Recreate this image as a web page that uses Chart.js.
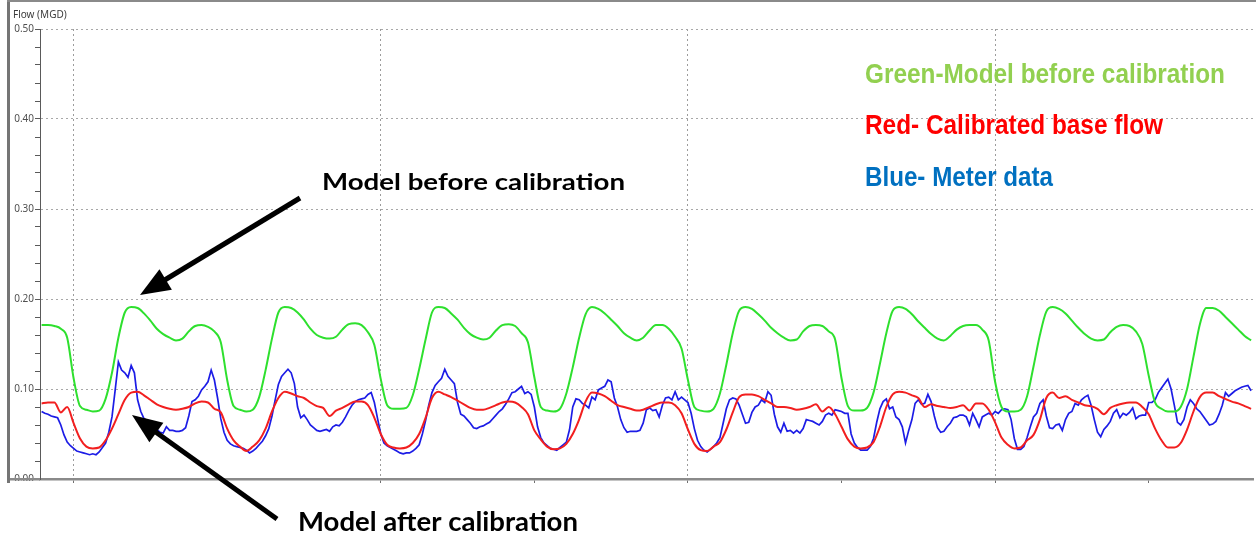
<!DOCTYPE html>
<html>
<head>
<meta charset="utf-8">
<title>Flow (MGD)</title>
<script src="https://cdn.jsdelivr.net/npm/chart.js@4.4.1/dist/chart.umd.min.js"></script>
<style>
    html, body { margin: 0; padding: 0; background: #fff; }
    canvas { display: block; }
</style>
</head>
<body>
<canvas id="chart" width="1256" height="537"></canvas>
<script>
/**
 * First sample of every series, in hours from the first day tick.
 */
const HOURS_FIRST = -5;
const HOURS_LAST = 184.3;

/**
 * Green - model before calibration, hourly.
 */
const GREEN_FLOW = [
    0.171, 0.171, 0.170, 0.167, 0.157,
    0.112, 0.081, 0.077, 0.075, 0.076, 0.089, 0.118, 0.157, 0.185, 0.191, 0.190, 0.184, 0.176, 0.167, 0.161, 0.157, 0.154, 0.156, 0.164, 0.170, 0.171, 0.169, 0.164, 0.152,
    0.110, 0.081, 0.077, 0.075, 0.077, 0.091, 0.121, 0.156, 0.185, 0.191, 0.190, 0.185, 0.177, 0.167, 0.160, 0.157, 0.156, 0.158, 0.166, 0.172, 0.173, 0.171, 0.163, 0.149,
    0.111, 0.082, 0.078, 0.078, 0.079, 0.093, 0.122, 0.155, 0.185, 0.191, 0.190, 0.184, 0.177, 0.168, 0.161, 0.157, 0.155, 0.157, 0.165, 0.171, 0.172, 0.170, 0.162, 0.152,
    0.113, 0.080, 0.076, 0.075, 0.078, 0.095, 0.124, 0.157, 0.183, 0.191, 0.189, 0.184, 0.177, 0.170, 0.162, 0.157, 0.154, 0.157, 0.165, 0.171, 0.171, 0.167, 0.158, 0.145,
    0.110, 0.080, 0.076, 0.075, 0.078, 0.095, 0.127, 0.162, 0.187, 0.191, 0.189, 0.183, 0.176, 0.168, 0.162, 0.157, 0.154, 0.155, 0.164, 0.170, 0.171, 0.170, 0.164, 0.155,
    0.112, 0.081, 0.076, 0.076, 0.079, 0.096, 0.128, 0.162, 0.187, 0.191, 0.189, 0.183, 0.175, 0.168, 0.161, 0.156, 0.154, 0.159, 0.166, 0.170, 0.171, 0.171, 0.166, 0.154,
    0.108, 0.080, 0.075, 0.075, 0.077, 0.092, 0.125, 0.160, 0.186, 0.191, 0.189, 0.184, 0.176, 0.168, 0.161, 0.156, 0.154, 0.155, 0.163, 0.169, 0.171, 0.170, 0.164, 0.150,
    0.115, 0.085, 0.078, 0.075, 0.075, 0.080, 0.100, 0.136, 0.172, 0.190, 0.190, 0.187, 0.180, 0.173, 0.166, 0.159, 0.154
];

/**
 * Red - calibrated base flow, hourly.
 */
const RED_FLOW = [
    0.084, 0.085, 0.085, 0.074, 0.080,
    0.062, 0.045, 0.036, 0.034, 0.035, 0.043, 0.056, 0.072, 0.088, 0.096, 0.097, 0.093, 0.088, 0.083, 0.080, 0.078, 0.077, 0.078, 0.080, 0.084, 0.086, 0.085, 0.078, 0.074,
    0.056, 0.043, 0.036, 0.031, 0.036, 0.043, 0.056, 0.075, 0.090, 0.097, 0.095, 0.092, 0.090, 0.085, 0.081, 0.079, 0.070, 0.076, 0.079, 0.083, 0.086, 0.086, 0.082, 0.068,
    0.050, 0.038, 0.035, 0.034, 0.035, 0.040, 0.050, 0.068, 0.090, 0.097, 0.094, 0.091, 0.087, 0.083, 0.079, 0.077, 0.077, 0.079, 0.082, 0.085, 0.086, 0.085, 0.080, 0.072,
    0.054, 0.044, 0.036, 0.033, 0.034, 0.039, 0.050, 0.066, 0.086, 0.096, 0.095, 0.092, 0.087, 0.082, 0.080, 0.078, 0.076, 0.077, 0.080, 0.083, 0.085, 0.085, 0.082, 0.073,
    0.055, 0.039, 0.032, 0.031, 0.036, 0.041, 0.055, 0.074, 0.091, 0.094, 0.094, 0.092, 0.088, 0.084, 0.080, 0.080, 0.079, 0.077, 0.078, 0.080, 0.083, 0.075, 0.080, 0.072,
    0.058, 0.044, 0.036, 0.034, 0.035, 0.041, 0.058, 0.080, 0.094, 0.097, 0.096, 0.093, 0.090, 0.080, 0.083, 0.081, 0.080, 0.079, 0.080, 0.082, 0.076, 0.084, 0.084, 0.077,
    0.063, 0.046, 0.038, 0.034, 0.035, 0.043, 0.049, 0.066, 0.090, 0.096, 0.090, 0.092, 0.088, 0.085, 0.082, 0.081, 0.078, 0.072, 0.079, 0.082, 0.084, 0.085, 0.085, 0.080,
    0.072, 0.056, 0.043, 0.035, 0.035, 0.040, 0.055, 0.075, 0.091, 0.096, 0.096, 0.092, 0.089, 0.086, 0.084, 0.081, 0.078
];

/**
 * Blue - meter data, every half hour.
 */
const BLUE_FLOW = [
    0.075, 0.073, 0.072, 0.070, 0.069, 0.068, 0.060, 0.049, 0.041, 0.037, 0.034, 0.031,
    0.030, 0.029, 0.028, 0.027, 0.028, 0.027, 0.030, 0.035, 0.040, 0.052, 0.069, 0.099,
    0.130, 0.121, 0.118, 0.113, 0.126, 0.118, 0.088, 0.075, 0.067, 0.065, 0.063, 0.059,
    0.055, 0.052, 0.051, 0.058, 0.054, 0.054, 0.053, 0.053, 0.054, 0.057, 0.070, 0.086,
    0.088, 0.092, 0.099, 0.103, 0.108, 0.121, 0.110, 0.090, 0.067, 0.052, 0.043, 0.039,
    0.037, 0.036, 0.035, 0.034, 0.032, 0.029, 0.031, 0.034, 0.038, 0.042, 0.048, 0.056,
    0.070, 0.088, 0.105, 0.114, 0.118,
    0.122, 0.118, 0.106, 0.080, 0.068, 0.071, 0.066, 0.060, 0.057, 0.054, 0.053, 0.054,
    0.055, 0.053, 0.058, 0.060, 0.059, 0.063, 0.069, 0.076, 0.082, 0.086, 0.088, 0.089,
    0.090, 0.094, 0.096, 0.085, 0.067, 0.050, 0.040, 0.037, 0.035, 0.033, 0.031, 0.029,
    0.028, 0.029, 0.029, 0.031, 0.034, 0.038, 0.050, 0.065, 0.082, 0.096, 0.104, 0.108,
    0.112, 0.122, 0.114, 0.110, 0.106, 0.085, 0.072, 0.070, 0.066, 0.062, 0.057, 0.056,
    0.058, 0.059, 0.061, 0.063, 0.067, 0.071, 0.075, 0.078, 0.083, 0.089, 0.096, 0.097,
    0.100, 0.103, 0.095, 0.097, 0.094, 0.080,
    0.058, 0.046, 0.040, 0.037, 0.034, 0.033, 0.032, 0.035, 0.038, 0.041, 0.055, 0.080,
    0.089, 0.088, 0.084, 0.082, 0.079, 0.091, 0.088, 0.099, 0.101, 0.103, 0.110, 0.108,
    0.090, 0.080, 0.066, 0.057, 0.052, 0.053, 0.053, 0.053, 0.054, 0.062, 0.077, 0.079,
    0.076, 0.077, 0.069, 0.082, 0.090, 0.091, 0.088, 0.097, 0.088, 0.091, 0.088, 0.085,
    0.073, 0.056, 0.043, 0.036, 0.032, 0.030, 0.033, 0.036, 0.040, 0.046, 0.062, 0.078,
    0.088, 0.090, 0.089, 0.082, 0.072, 0.062, 0.063, 0.074, 0.080, 0.082, 0.088, 0.085,
    0.097, 0.093, 0.072, 0.058, 0.052,
    0.062, 0.053, 0.054, 0.051, 0.054, 0.051, 0.056, 0.066, 0.065, 0.064, 0.062, 0.060,
    0.064, 0.071, 0.073, 0.071, 0.077, 0.076, 0.075, 0.073, 0.073, 0.050, 0.040, 0.035,
    0.032, 0.032, 0.032, 0.036, 0.045, 0.063, 0.078, 0.086, 0.089, 0.078, 0.080, 0.069,
    0.066, 0.058, 0.040, 0.054, 0.066, 0.084, 0.088, 0.083, 0.084, 0.094, 0.086, 0.070,
    0.057, 0.052, 0.053, 0.058, 0.062, 0.068, 0.069, 0.071, 0.071, 0.069, 0.060, 0.073,
    0.066, 0.058, 0.069, 0.071, 0.073, 0.071, 0.075, 0.073, 0.077, 0.078, 0.077, 0.066,
    0.045, 0.033, 0.033, 0.036, 0.046,
    0.058, 0.069, 0.073, 0.084, 0.088, 0.070, 0.057, 0.056, 0.060, 0.061, 0.054, 0.066,
    0.073, 0.075, 0.084, 0.082, 0.088, 0.091, 0.093, 0.082, 0.066, 0.052, 0.047, 0.055,
    0.059, 0.064, 0.073, 0.077, 0.068, 0.073, 0.071, 0.074, 0.079, 0.067, 0.070, 0.071,
    0.071, 0.085, 0.085, 0.088, 0.096, 0.101, 0.106, 0.111, 0.100, 0.082, 0.063, 0.060,
    0.066, 0.080, 0.088, 0.084, 0.078, 0.075, 0.070, 0.065, 0.060, 0.061, 0.064, 0.072,
    0.082, 0.096, 0.092, 0.095, 0.098, 0.100, 0.102, 0.103, 0.104, 0.098
];

/**
 * Day ticks on the time axis (hours), dotted grid every second day.
 */
const DAY_TICKS = [0, 24, 48, 72, 96, 120, 144, 168];
const GRID_DAYS = [0, 48, 96, 144];

/**
 * Flow axis: small ticks every 0.02, labels every 0.10.
 */
const Y_MIN = 0;
const Y_MAX = 0.5;
const Y_TICK_STEP = 0.02;

const Y_TITLE = 'Flow (MGD)';
const LEGEND_LINES = [
    'Green-Model before calibration',
    'Red- Calibrated base flow',
    'Blue- Meter data'
];
const NOTE_BEFORE = 'Model before calibration';
const NOTE_AFTER = 'Model after calibration';

const onDOMLoaded = () => {
    const CTX = document.getElementById('chart').getContext('2d');

    const toPoints = (values, step) => values.map((y, i) => ({ x: HOURS_FIRST + i * step, y }));
    const isLabelTick = (v) => Math.abs(v * 10 - Math.round(v * 10)) < 1e-6;

    /**
     * Draws text with a given cap height, squeezed to a given width.
     */
    const fitText = (ctx, text, left, baseline, width, capHeight, family, color) => {
        const size = capHeight / 0.72;
        ctx.save();
        ctx.font = `bold ${size}px ${family}`;
        ctx.fillStyle = color;
        ctx.textBaseline = 'alphabetic';
        ctx.textAlign = 'left';
        const measured = ctx.measureText(text).width;
        ctx.translate(left, baseline);
        ctx.scale(width / measured, 1);
        ctx.fillText(text, 0, 0);
        ctx.restore();
    };

    const drawArrow = (ctx, tail, tip, lineWidth, headLength, headWidth) => {
        const dx = tip[0] - tail[0];
        const dy = tip[1] - tail[1];
        const len = Math.hypot(dx, dy);
        const ux = dx / len;
        const uy = dy / len;
        const bx = tip[0] - ux * headLength;
        const by = tip[1] - uy * headLength;
        ctx.save();
        ctx.strokeStyle = ctx.fillStyle = '#000';
        ctx.lineWidth = lineWidth;
        ctx.beginPath();
        ctx.moveTo(tail[0], tail[1]);
        ctx.lineTo(bx + ux * 3, by + uy * 3);
        ctx.stroke();
        ctx.beginPath();
        ctx.moveTo(tip[0], tip[1]);
        ctx.lineTo(bx - uy * headWidth / 2, by + ux * headWidth / 2);
        ctx.lineTo(bx + uy * headWidth / 2, by - ux * headWidth / 2);
        ctx.closePath();
        ctx.fill();
        ctx.restore();
    };

    /**
     * Screenshot frame, axis title and the hand-made notes on top of the chart.
     */
    const decorations = {
        id: 'decorations',
        afterDraw: (chart) => {
            const ctx = chart.ctx;
            const area = chart.chartArea;

            ctx.save();
            ctx.fillStyle = '#fff';
            ctx.fillRect(10, area.bottom + 2, area.left - 12, 12);

            ctx.fillStyle = '#757575';
            ctx.fillRect(7, 0, 3, area.bottom + 4);
            ctx.fillStyle = '#8a8a8a';
            ctx.fillRect(7, 0, chart.width - 7, 2);
            ctx.fillRect(10, area.bottom - 1, area.left - 10, 2.5);

            ctx.fillStyle = '#3c3c3c';
            ctx.font = '10px "Noto Sans"';
            ctx.textBaseline = 'middle';
            ctx.fillText(Y_TITLE, 13, 15);
            ctx.restore();

            fitText(ctx, LEGEND_LINES[0], 865, 83, 360, 20, '"Liberation Sans"', '#92d050');
            fitText(ctx, LEGEND_LINES[1], 865, 134, 298, 19.5, '"Liberation Sans"', '#ff0000');
            fitText(ctx, LEGEND_LINES[2], 865, 186, 188, 19.5, '"Liberation Sans"', '#0070c0');

            fitText(ctx, NOTE_BEFORE, 322, 190, 303, 17, 'Lato', '#000');
            fitText(ctx, NOTE_AFTER, 298, 531, 280, 19, 'Lato', '#000');

            drawArrow(ctx, [300, 198], [140, 295], 5, 30, 24);
            drawArrow(ctx, [277, 519], [132, 415], 5, 30, 24);
        }
    };

    new Chart(CTX, {
        type: 'line',
        data: {
            datasets: [
                {
                    label: LEGEND_LINES[0],
                    data: toPoints(GREEN_FLOW, 1),
                    borderColor: '#2ee02e',
                    borderWidth: 2,
                    cubicInterpolationMode: 'monotone',
                    order: 0
                },
                {
                    label: LEGEND_LINES[1],
                    data: toPoints(RED_FLOW, 1),
                    borderColor: '#f21f1f',
                    borderWidth: 2,
                    cubicInterpolationMode: 'monotone',
                    order: 1
                },
                {
                    label: LEGEND_LINES[2],
                    data: toPoints(BLUE_FLOW, 0.5),
                    borderColor: '#1c1ce6',
                    borderWidth: 1.7,
                    tension: 0,
                    order: 2
                }
            ]
        },
        options: {
            responsive: false,
            animation: false,
            devicePixelRatio: 1,
            layout: { padding: { top: 29, right: 3, left: 0, bottom: 0 } },
            elements: { point: { radius: 0 } },
            plugins: {
                legend: { display: false },
                tooltip: { enabled: false }
            },
            scales: {
                x: {
                    type: 'linear',
                    min: HOURS_FIRST - 0.25,
                    max: HOURS_LAST,
                    afterBuildTicks: (axis) => {
                        axis.ticks = DAY_TICKS.map((value) => ({ value }));
                    },
                    afterFit: (axis) => {
                        axis.height = 58;
                    },
                    ticks: { display: false },
                    grid: {
                        color: (c) => GRID_DAYS.includes(c.tick && c.tick.value) ? '#9c9c9c' : 'transparent',
                        lineWidth: 1,
                        tickColor: '#707070',
                        tickLength: 4
                    },
                    border: { display: true, color: '#8a8a8a', width: 2.5, dash: [2, 3] }
                },
                y: {
                    min: Y_MIN,
                    max: Y_MAX,
                    afterFit: (axis) => {
                        axis.width = 40;
                    },
                    ticks: {
                        stepSize: Y_TICK_STEP,
                        autoSkip: false,
                        padding: 1,
                        color: '#505050',
                        font: { family: '"Noto Sans"', size: 10 },
                        callback: (v) => isLabelTick(v) ? v.toFixed(2) : ''
                    },
                    grid: {
                        color: (c) => c.tick && c.tick.value > 0 && isLabelTick(c.tick.value) ? '#a8a8a8' : 'transparent',
                        lineWidth: 1,
                        tickColor: '#5a5a5a',
                        tickLength: 5
                    },
                    border: { display: true, color: '#5a5a5a', width: 1, dash: [2, 3] }
                }
            }
        },
        plugins: [decorations]
    });
};

document.addEventListener('DOMContentLoaded', onDOMLoaded);
</script>
</body>
</html>
